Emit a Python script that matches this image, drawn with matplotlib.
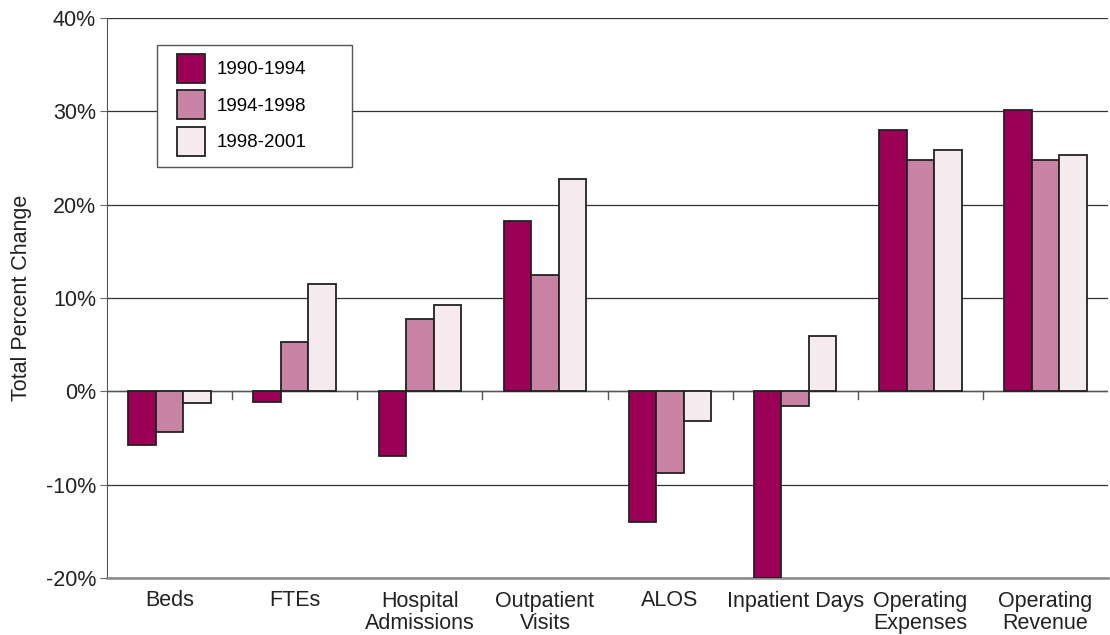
import numpy as np
import matplotlib
matplotlib.use('Agg')
import matplotlib.pyplot as plt
from matplotlib.patches import Rectangle

plt.rcParams['font.family'] = ['Liberation Sans', 'DejaVu Sans']

categories = ['Beds', 'FTEs', 'Hospital\nAdmissions', 'Outpatient\nVisits', 'ALOS',
              'Inpatient Days', 'Operating\nExpenses', 'Operating\nRevenue']
series_names = ['1990-1994', '1994-1998', '1998-2001']
v_1990_1994 = [-5.7, -1.1, -6.9, 18.3, -14.0, -20.0, 28.0, 30.1]
v_1994_1998 = [-4.4, 5.3, 7.8, 12.5, -8.8, -1.6, 24.8, 24.8]
v_1998_2001 = [-1.2, 11.5, 9.2, 22.8, -3.2, 5.9, 25.9, 25.3]
colors = ['#9b0056', '#c882a3', '#f5eaee']

W, H = 1110, 635
fig = plt.figure(figsize=(W / 100, H / 100), dpi=100)
ax = fig.add_axes([107 / W, 1 - 578 / H, 1001 / W, 560 / H])

x = np.arange(len(categories))
w = 0.22
for i, (vals, name) in enumerate(zip([v_1990_1994, v_1994_1998, v_1998_2001], series_names)):
    ax.bar(x + (i - 1) * w, vals, w, color=colors[i], edgecolor='#222222',
           linewidth=1.3, label=name, zorder=3)

ax.set_xlim(-0.5, len(categories) - 0.5)
ax.set_ylim(-20, 40)
ax.set_yticks(range(-20, 41, 10))
ax.set_yticklabels([f'{t}%' for t in range(-20, 41, 10)], fontsize=15.5, color='#222222')
ax.grid(axis='y', color='#333333', linewidth=0.9, zorder=0)
ax.axhline(0, color='#555555', linewidth=1.0, zorder=2)

# small ticks on the zero line between categories
for b in np.arange(0.5, len(categories) - 0.5, 1):
    ax.plot([b, b], [0, -0.8], color='#555555', linewidth=1.0, zorder=2)

ax.set_xticks(x)
ax.set_xticklabels(categories, fontsize=15.5, linespacing=1.08, va='top', color='#222222')
ax.tick_params(axis='x', length=0, pad=9)
ax.tick_params(axis='y', length=5, color='#666666', direction='out', pad=3)

for s in ['top', 'right']:
    ax.spines[s].set_visible(False)
ax.spines['left'].set_color('#555555')
ax.spines['bottom'].set_color('#888888')
ax.spines['bottom'].set_linewidth(1.8)

ax.set_ylabel('Total Percent Change', fontsize=15.5, labelpad=10, color='#222222')

# legend frame drawn by hand, entries placed inside it
frame = Rectangle((157 / W, 1 - 167 / H), 195 / W, 122 / H, transform=fig.transFigure,
                  facecolor='white', edgecolor='#555555', linewidth=1.0, zorder=4, clip_on=False)
ax.add_patch(frame)
leg = ax.legend(loc='upper left', bbox_to_anchor=(177 / W, 1 - 54 / H),
                bbox_transform=fig.transFigure, fontsize=13.5, frameon=False,
                handlelength=1.5, handleheight=2.0, borderpad=0, labelspacing=0.4,
                handletextpad=0.6, borderaxespad=0)
leg.set_zorder(5)

fig.savefig('out.png', dpi=100)
